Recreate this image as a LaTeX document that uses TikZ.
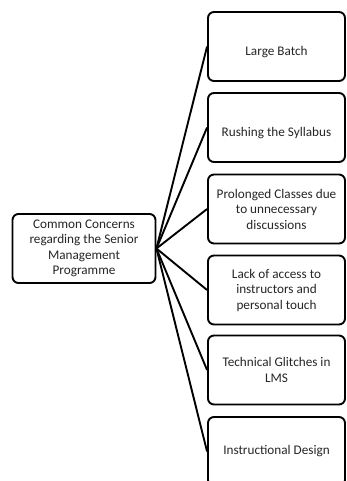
\documentclass[tikz,border=0pt]{standalone}
\usepackage{fontspec}
\setmainfont{Carlito}
\begin{document}
\begin{tikzpicture}[x=1pt,y=-1pt,
  box/.style={draw=black, line width=1.9pt, rounded corners=6pt, fill=white,
    inner sep=0pt},
  hub/.style={box, minimum width=143pt, minimum height=69pt},
  leaf/.style={box, minimum width=137pt, minimum height=69pt},
  txt/.style={font=\fontsize{13.2}{15.5}\selectfont, align=center, text=black!85},
  link/.style={draw=black, line width=1.9pt}]
\useasboundingbox (0,0) rectangle (346,481);
\fill[white] (0,0) rectangle (346,481);

% central topic
\node[hub] (c) at (84,248.5) {};
\node[txt] (ct) at (c.center) {Common Concerns\\regarding the Senior\\Management\\Programme};

% concern boxes
\node[leaf] (b1) at (276.5,46.5) {};
\node[leaf] (b2) at (276.5,127.5) {};
\node[leaf] (b3) at (276.5,209) {};
\node[leaf] (b4) at (276.5,290) {};
\node[leaf] (b5) at (276.5,370) {};
\node[leaf] (b6) at (276.5,451.5) {};

\node[txt] (t1) at ([yshift=-6pt]b1.center) {Large Batch};
\node[txt] (t2) at ([yshift=-6pt]b2.center) {Rushing the Syllabus};
\node[txt] (t3) at (b3.center) {Prolonged Classes due\\to unnecessary\\discussions};
\node[txt] (t4) at (b4.center) {Lack of access to\\instructors and\\personal touch};
\node[txt] (t5) at (b5.center) {Technical Glitches in\\LMS};
\node[txt] (t6) at (b6.center) {Instructional Design};

% connectors
\foreach \i in {1,...,6}
  \draw[link] (c.east) -- (b\i.west);
\end{tikzpicture}
\end{document}
